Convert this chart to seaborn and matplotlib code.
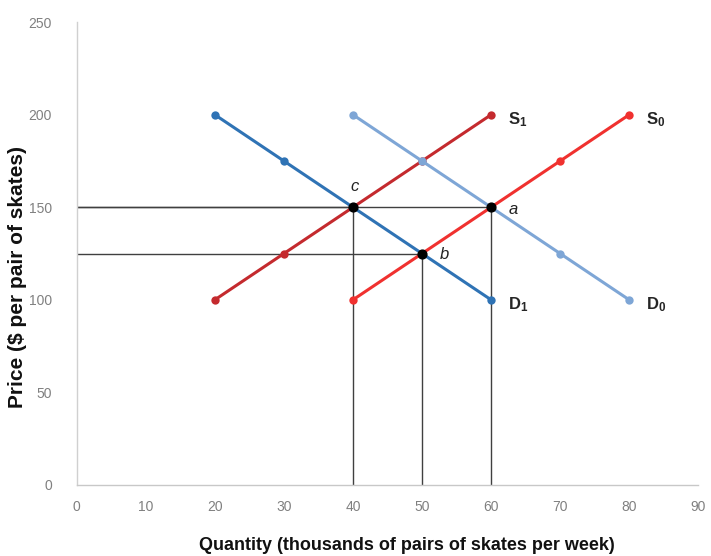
import matplotlib
matplotlib.use("Agg")
import matplotlib.pyplot as plt
import seaborn as sns
import pandas as pd
from matplotlib import font_manager

# Data
s1_q = [20, 30, 40, 50, 60]
s1_p = [100, 125, 150, 175, 200]
s0_q = [40, 50, 60, 70, 80]
s0_p = [100, 125, 150, 175, 200]
d1_q = [20, 30, 40, 50, 60]
d1_p = [200, 175, 150, 125, 100]
d0_q = [40, 50, 60, 70, 80]
d0_p = [200, 175, 150, 125, 100]
eq_labels = ["c", "a", "b"]
eq_q = [40, 60, 50]
eq_p = [150, 150, 125]
x_ticks = [0, 10, 20, 30, 40, 50, 60, 70, 80, 90]
y_ticks = [0, 50, 100, 150, 200, 250]

sns.set_theme(style="white")
plt.rcParams['font.family'] = ['Liberation Sans', 'DejaVu Sans']
plt.rcParams['mathtext.fontset'] = 'custom'
plt.rcParams['mathtext.rm'] = 'Liberation Sans'
plt.rcParams['mathtext.bf'] = 'Liberation Sans:bold'

names = {f.name for f in font_manager.fontManager.ttflist}
narrow = 'Liberation Sans Narrow' if 'Liberation Sans Narrow' in names else 'Liberation Sans'

fig = plt.figure(figsize=(7.11, 5.56), dpi=100)
ax = fig.add_axes([0.108, 0.128, 0.874, 0.832])

# reference lines
for q, p in zip(eq_q, eq_p):
    ax.plot([0, q], [p, p], color="#404040", lw=1.0, zorder=1)
    ax.plot([q, q], [0, p], color="#404040", lw=1.0, zorder=1)

series = [
    ("S1", s1_q, s1_p, "#c42a2e"),
    ("S0", s0_q, s0_p, "#f0312f"),
    ("D1", d1_q, d1_p, "#2f73b5"),
    ("D0", d0_q, d0_p, "#7ea6d6"),
]
for name, q, p, c in series:
    df = pd.DataFrame({"q": q, "p": p})
    sns.lineplot(data=df, x="q", y="p", ax=ax, color=c, lw=2.2,
                 marker="o", markersize=6, markeredgewidth=0, zorder=3)

ax.scatter(eq_q, eq_p, color="black", s=40, zorder=5)

# curve labels
lab_dy = -2.5
ax.text(s1_q[-1] + 2.5, s1_p[-1] + lab_dy, r"$\mathbf{S_1}$", fontsize=12, va="center", ha="left")
ax.text(s0_q[-1] + 2.5, s0_p[-1] + lab_dy, r"$\mathbf{S_0}$", fontsize=12, va="center", ha="left")
ax.text(d1_q[-1] + 2.5, d1_p[-1] + lab_dy, r"$\mathbf{D_1}$", fontsize=12, va="center", ha="left")
ax.text(d0_q[-1] + 2.5, d0_p[-1] + lab_dy, r"$\mathbf{D_0}$", fontsize=12, va="center", ha="left")

# equilibrium labels
offsets = {"c": (0.2, 11), "a": (2.5, -1), "b": (2.5, -0.5)}
for lab, q, p in zip(eq_labels, eq_q, eq_p):
    dx, dy = offsets[lab]
    ax.text(q + dx, p + dy, lab, fontsize=12, style="italic",
            ha="center" if lab == "c" else "left", va="center", color="#222222")

ax.set_xlim(0, 90)
ax.set_ylim(0, 250)
ax.set_xticks(x_ticks)
ax.set_yticks(y_ticks)
ax.tick_params(axis="x", labelsize=10, colors="#808080", length=0, pad=11)
ax.tick_params(axis="y", labelsize=10, colors="#808080", length=0, pad=18)

for side in ["top", "right"]:
    ax.spines[side].set_visible(False)
ax.spines["left"].set_color("#d0d0d0")
ax.spines["bottom"].set_color("#c8c8c8")
ax.spines["left"].set_linewidth(1.0)
ax.spines["bottom"].set_linewidth(1.0)

ax.set_xlabel("Quantity (thousands of pairs of skates per week)", fontsize=13,
              fontweight="bold", color="#111111", family=[narrow, 'DejaVu Sans'])
ax.set_ylabel("Price ($ per pair of skates)", fontsize=15, fontweight="bold",
              color="#111111", family=[narrow, 'DejaVu Sans'])
ax.xaxis.set_label_coords(0.531, -0.112)
ax.yaxis.set_label_coords(-0.08, 0.449)

fig.savefig("out.png", dpi=100)
